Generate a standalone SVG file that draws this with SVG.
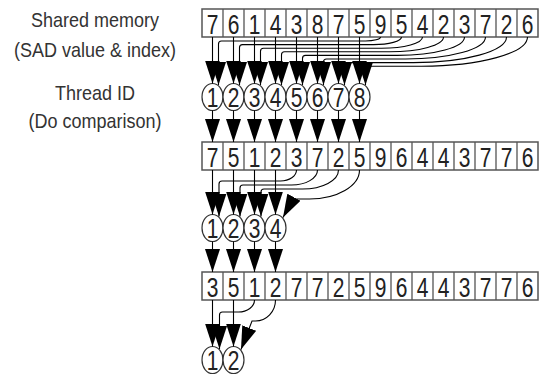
<svg xmlns="http://www.w3.org/2000/svg" width="542" height="376" viewBox="0 0 542 376">
<defs>
<style>
.lbl{font-family:"Liberation Sans",Arial,sans-serif;font-size:20px;fill:#333;text-anchor:middle}
.dg{font-family:"Liberation Sans",Arial,sans-serif;font-size:28px;fill:#222;text-anchor:middle}
.box{fill:#fff;stroke:#555;stroke-width:1.5}
.div{stroke:#555;stroke-width:1.3}
.cir{fill:#fff;stroke:#333;stroke-width:1.2}
.ln{fill:none;stroke:#000;stroke-width:1.1;marker-end:url(#ah)}
</style>
<marker id="ah" markerUnits="userSpaceOnUse" markerWidth="23" markerHeight="15" viewBox="0 0 23 15" refX="23" refY="7.5" orient="auto">
<path d="M0,0 L23,7.5 L0,15 Z" fill="#000"/>
</marker>
</defs>
<rect width="542" height="376" fill="#fff"/>

<g id="labels">
<text class="lbl" transform="translate(95,26.5) scale(0.9,1)">Shared memory</text>
<text class="lbl" transform="translate(95,57) scale(0.9,1)">(SAD value &amp; index)</text>
<text class="lbl" transform="translate(95,100) scale(0.9,1)">Thread ID</text>
<text class="lbl" transform="translate(95,128) scale(0.9,1)">(Do comparison)</text>
</g>

<g id="array1">
<rect class="box" x="202" y="9" width="336" height="28"/>
<path class="div" d="M223,9V37M244,9V37M265,9V37M286,9V37M307,9V37M328,9V37M349,9V37M370,9V37M391,9V37M412,9V37M433,9V37M454,9V37M475,9V37M496,9V37M517,9V37"/>
<g transform="translate(0,33.5) scale(0.75,1)">
<text class="dg" x="283.33">7</text><text class="dg" x="311.33">6</text><text class="dg" x="339.33">1</text><text class="dg" x="367.33">4</text>
<text class="dg" x="395.33">3</text><text class="dg" x="423.33">8</text><text class="dg" x="451.33">7</text><text class="dg" x="479.33">5</text>
<text class="dg" x="507.33">9</text><text class="dg" x="535.33">5</text><text class="dg" x="563.33">4</text><text class="dg" x="591.33">2</text>
<text class="dg" x="619.33">3</text><text class="dg" x="647.33">7</text><text class="dg" x="675.33">2</text><text class="dg" x="703.33">6</text>
</g>
</g>

<g id="array2">
<rect class="box" x="202" y="142" width="336" height="28"/>
<path class="div" d="M223,142V170M244,142V170M265,142V170M286,142V170M307,142V170M328,142V170M349,142V170M370,142V170M391,142V170M412,142V170M433,142V170M454,142V170M475,142V170M496,142V170M517,142V170"/>
<g transform="translate(0,166.5) scale(0.75,1)">
<text class="dg" x="283.33">7</text><text class="dg" x="311.33">5</text><text class="dg" x="339.33">1</text><text class="dg" x="367.33">2</text>
<text class="dg" x="395.33">3</text><text class="dg" x="423.33">7</text><text class="dg" x="451.33">2</text><text class="dg" x="479.33">5</text>
<text class="dg" x="507.33">9</text><text class="dg" x="535.33">6</text><text class="dg" x="563.33">4</text><text class="dg" x="591.33">4</text>
<text class="dg" x="619.33">3</text><text class="dg" x="647.33">7</text><text class="dg" x="675.33">7</text><text class="dg" x="703.33">6</text>
</g>
</g>

<g id="array3">
<rect class="box" x="202" y="272" width="336" height="28"/>
<path class="div" d="M223,272V300M244,272V300M265,272V300M286,272V300M307,272V300M328,272V300M349,272V300M370,272V300M391,272V300M412,272V300M433,272V300M454,272V300M475,272V300M496,272V300M517,272V300"/>
<g transform="translate(0,296.5) scale(0.75,1)">
<text class="dg" x="283.33">3</text><text class="dg" x="311.33">5</text><text class="dg" x="339.33">1</text><text class="dg" x="367.33">2</text>
<text class="dg" x="395.33">7</text><text class="dg" x="423.33">7</text><text class="dg" x="451.33">2</text><text class="dg" x="479.33">5</text>
<text class="dg" x="507.33">9</text><text class="dg" x="535.33">6</text><text class="dg" x="563.33">4</text><text class="dg" x="591.33">4</text>
<text class="dg" x="619.33">3</text><text class="dg" x="647.33">7</text><text class="dg" x="675.33">7</text><text class="dg" x="703.33">6</text>
</g>
</g>

<g id="threads1">
<ellipse class="cir" cx="212.5" cy="97" rx="10.5" ry="13.5"/><ellipse class="cir" cx="233.5" cy="97" rx="10.5" ry="13.5"/>
<ellipse class="cir" cx="254.5" cy="97" rx="10.5" ry="13.5"/><ellipse class="cir" cx="275.5" cy="97" rx="10.5" ry="13.5"/>
<ellipse class="cir" cx="296.5" cy="97" rx="10.5" ry="13.5"/><ellipse class="cir" cx="317.5" cy="97" rx="10.5" ry="13.5"/>
<ellipse class="cir" cx="338.5" cy="97" rx="10.5" ry="13.5"/><ellipse class="cir" cx="359.5" cy="97" rx="10.5" ry="13.5"/>
<g transform="translate(0,107) scale(0.75,1)">
<text class="dg" x="283.33">1</text><text class="dg" x="311.33">2</text><text class="dg" x="339.33">3</text><text class="dg" x="367.33">4</text>
<text class="dg" x="395.33">5</text><text class="dg" x="423.33">6</text><text class="dg" x="451.33">7</text><text class="dg" x="479.33">8</text>
</g>
</g>

<g id="threads2">
<ellipse class="cir" cx="212.5" cy="228" rx="10.5" ry="13.5"/><ellipse class="cir" cx="233.5" cy="228" rx="10.5" ry="13.5"/>
<ellipse class="cir" cx="254.5" cy="228" rx="10.5" ry="13.5"/><ellipse class="cir" cx="275.5" cy="228" rx="10.5" ry="13.5"/>
<g transform="translate(0,238) scale(0.75,1)">
<text class="dg" x="283.33">1</text><text class="dg" x="311.33">2</text><text class="dg" x="339.33">3</text><text class="dg" x="367.33">4</text>
</g>
</g>

<g id="threads3">
<ellipse class="cir" cx="212.5" cy="360" rx="10.5" ry="13.5"/><ellipse class="cir" cx="233.5" cy="360" rx="10.5" ry="13.5"/>
<g transform="translate(0,370) scale(0.75,1)">
<text class="dg" x="283.33">1</text><text class="dg" x="311.33">2</text>
</g>
</g>

<g id="connectors">
<path class="ln" d="M212.5,37V83.5"/><path class="ln" d="M233.5,37V83.5"/><path class="ln" d="M254.5,37V83.5"/><path class="ln" d="M275.5,37V83.5"/>
<path class="ln" d="M296.5,37V83.5"/><path class="ln" d="M317.5,37V83.5"/><path class="ln" d="M338.5,37V83.5"/><path class="ln" d="M359.5,37V83.5"/>
<path class="ln" d="M380.5,37 A15,4 0 0 1 365.5,41 L221.5,41 Q218.5,41 218.5,44 L218.5,85"/>
<path class="ln" d="M401.5,37 A28,7.6 0 0 1 373.5,44.6 L242.5,44.6 Q239.5,44.6 239.5,47.6 L239.5,85"/>
<path class="ln" d="M422.5,37 A41,11.2 0 0 1 381.5,48.2 L263.5,48.2 Q260.5,48.2 260.5,51.2 L260.5,85"/>
<path class="ln" d="M443.5,37 A54,14.8 0 0 1 389.5,51.8 L284.5,51.8 Q281.5,51.8 281.5,54.8 L281.5,85"/>
<path class="ln" d="M464.5,37 A67,18.4 0 0 1 397.5,55.4 L305.5,55.4 Q302.5,55.4 302.5,58.4 L302.5,85"/>
<path class="ln" d="M485.5,37 A80,22 0 0 1 405.5,59 L326.5,59 Q323.5,59 323.5,62 L323.5,85"/>
<path class="ln" d="M506.5,37 A93,25.6 0 0 1 413.5,62.6 L347.5,62.6 Q344.5,62.6 344.5,65.6 L344.5,85"/>
<path class="ln" d="M527.5,37 A106,29.2 0 0 1 421.5,66.2 L368.5,66.2 Q365.5,66.2 365.5,69.2 L365.5,85"/>

<path class="ln" d="M212.5,110.5V142"/><path class="ln" d="M233.5,110.5V142"/><path class="ln" d="M254.5,110.5V142"/><path class="ln" d="M275.5,110.5V142"/>
<path class="ln" d="M296.5,110.5V142"/><path class="ln" d="M317.5,110.5V142"/><path class="ln" d="M338.5,110.5V142"/><path class="ln" d="M359.5,110.5V142"/>

<path class="ln" d="M212.5,170V214.5"/><path class="ln" d="M233.5,170V214.5"/><path class="ln" d="M254.5,170V214.5"/><path class="ln" d="M275.5,170V214.5"/>
<path class="ln" d="M296.5,170 A16,11 0 0 1 280.5,181 L222,181 Q219,181 219,184 L219,216.5"/>
<path class="ln" d="M317.5,170 A26,15 0 0 1 291.5,185 L243,185 Q240,185 240,188 L240,216.5"/>
<path class="ln" d="M338.5,170 A36,19 0 0 1 302.5,189 L264,189 Q261,189 261,192 L261,216.5"/>
<path class="ln" d="M359.5,170 A50,29 0 0 1 309.5,199 L293,199 L283,217.5"/>

<path class="ln" d="M212.5,241.5V272"/><path class="ln" d="M233.5,241.5V272"/><path class="ln" d="M254.5,241.5V272"/><path class="ln" d="M275.5,241.5V272"/>

<path class="ln" d="M212.5,300V346.5"/><path class="ln" d="M233.5,300V346.5"/>
<path class="ln" d="M254.5,300 A16,12 0 0 1 238.5,312 L222.5,312 Q219.5,312 219.5,315 L219.5,349"/>
<path class="ln" d="M275.5,300 A20,21 0 0 1 255.5,321 L252,321 L241,349.5"/>
</g>
</svg>
